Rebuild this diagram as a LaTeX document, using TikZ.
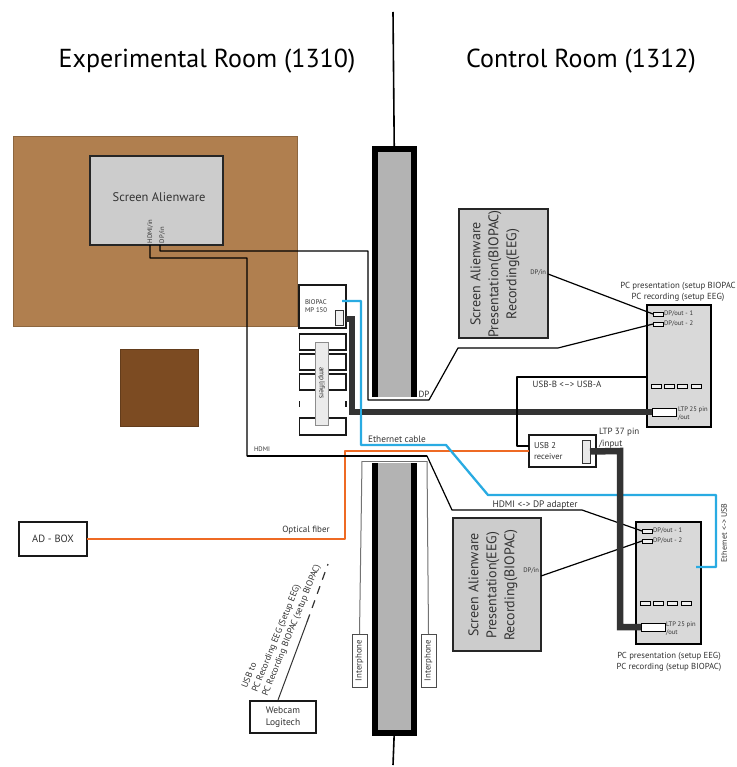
\documentclass[tikz,border=0pt]{standalone}
\usepackage{fontspec}
\setmainfont{PT Sans}
\usetikzlibrary{calc}
\definecolor{brownA}{HTML}{B07F4F}
\definecolor{brownB}{HTML}{7C4B22}
\definecolor{wallG}{HTML}{B3B3B3}
\definecolor{scrG}{HTML}{CCCCCC}
\definecolor{pcG}{HTML}{D9D9D9}
\definecolor{cableB}{HTML}{29ABE2}
\definecolor{cableO}{HTML}{EE6A24}
\definecolor{thickC}{HTML}{333333}
\definecolor{txtC}{HTML}{333333}
\tikzset{
  x=1pt,y=-1pt,
  every node/.style={inner sep=0pt,outer sep=0pt,text=txtC,font=\fontsize{8}{10}\selectfont,align=center},
  boxline/.style={draw=black!90,line width=1.5pt},
  thinbox/.style={draw=black!70,line width=1pt},
  pcbox/.style={draw=black,line width=2pt,fill=pcG},
  scrbox/.style={draw=black!85,line width=1.5pt,fill=scrG},
  portbox/.style={draw=black,line width=1pt,fill=pcG!40},
  wire/.style={draw=black,line width=1.2pt,line join=round},
  thickwire/.style={draw=thickC,line width=6.5pt,line join=miter},
  bluewire/.style={draw=cableB,line width=2.3pt,line join=round},
  orangewire/.style={draw=cableO,line width=2.5pt,line join=round},
  greyline/.style={draw=black!55,line width=1pt},
  lbl/.style={font=\fontsize{9}{11}\selectfont},
  smalllbl/.style={font=\fontsize{6.6}{8}\selectfont},
}
\newcommand{\bx}[6]{%
  \pgfmathsetmacro{\bw}{#4-#2}\pgfmathsetmacro{\bh}{#5-#3}%
  \node[#6,minimum width=\bw pt,minimum height=\bh pt] (#1) at ({(#2+#4)/2},{(#3+#5)/2}) {};}
\begin{document}
\begin{tikzpicture}
\useasboundingbox (0,0) rectangle (736,767);
\fill[white] (0,0) rectangle (736,767);
% rooms
\node[font=\fontsize{26}{30}\selectfont,text=black] (titleL) at (207,61) {Experimental Room (1310)};
\node[font=\fontsize{26}{30}\selectfont,text=black] (titleR) at (581,61) {Control Room (1312)};
\bx{table}{13}{137}{297}{326}{fill=brownA,draw=brownA!80!black,line width=1pt}
\bx{stool}{120}{349}{198}{426}{fill=brownB,draw=brownB!80!black,line width=.8pt}
% central wall
\coordinate (wallTop) at (393,12);
\coordinate (wallBot) at (393,765);
\bx{wallA}{374.5}{149.5}{414}{397}{fill=wallG}
\bx{wallB}{374.5}{463}{414}{732.5}{fill=wallG}
\draw[line width=1.6pt,black] (wallTop) -- (wallA.north);
\draw[line width=1.6pt,black] (wallB.south) -- (wallBot);
\draw[black,line width=6pt,line join=miter] (wallA.south west) -- (wallA.north west) -- (wallA.north east) -- (wallA.south east);
\draw[black,line width=6pt,line join=miter] (wallB.north west) -- (wallB.south west) -- (wallB.south east) -- (wallB.north east);
% screens
\bx{scrA}{90}{156}{223}{245}{scrbox}
\node[font=\fontsize{12.5}{15}\selectfont] (scrAt) at (159,197) {Screen Alienware};
\node[font=\fontsize{6.6}{7}\selectfont,rotate=90,anchor=south west] (hdmiIn) at (153,243) {HDMI/in};
\node[font=\fontsize{6.6}{7}\selectfont,rotate=90,anchor=south west] (dpIn) at (165,243) {DP/in};
\coordinate (hdmiOut) at (150,245);
\coordinate (dpOut) at (160,245);
\bx{scrB}{459}{209}{548}{338}{scrbox}
\node[font=\fontsize{14}{18}\selectfont,rotate=90] (scrBt) at (495,274) {Screen Alienware\\Presentation(BIOPAC)\\Recording(EEG)};
\node[smalllbl,anchor=east] (scrBdp) at (546,273) {DP/in};
\bx{scrC}{453}{518}{541}{651}{scrbox}
\node[font=\fontsize{14}{18}\selectfont,rotate=90] (scrCt) at (493,585) {Screen Alienware\\Presentation(EEG)\\Recording(BIOPAC)};
\node[smalllbl,anchor=east] (scrCdp) at (539,571) {DP/in};
% PCs
\bx{pcA}{647}{305}{711}{427}{pcbox}
\bx{pcAd1}{653}{312}{663}{316}{portbox}
\bx{pcAd2}{653}{322}{663}{326}{portbox}
\bx{pcAu1}{651}{384}{661}{388}{portbox}
\bx{pcAu2}{664}{384}{674}{388}{portbox}
\bx{pcAu3}{677}{384}{687}{388}{portbox}
\bx{pcAu4}{691}{384}{701}{388}{portbox}
\bx{pcB}{636}{522}{701}{644}{pcbox}
\bx{pcBd1}{642}{529}{652}{533}{portbox}
\bx{pcBd2}{642}{539}{652}{543}{portbox}
\bx{pcBu1}{640}{601}{650}{605}{portbox}
\bx{pcBu2}{653}{601}{663}{605}{portbox}
\bx{pcBu3}{667}{601}{677}{605}{portbox}
\bx{pcBu4}{681}{601}{691}{605}{portbox}
\coordinate (pcBeth) at (696,567);
% receiver, biopac, others
\bx{recv}{529}{435}{596}{467}{boxline,fill=white}
\node[anchor=west,align=left,font=\fontsize{8.5}{11}\selectfont] (recvT) at (534,451) {USB 2\\receiver};
\bx{biopac}{299}{285}{346}{328}{boxline,fill=white}
\node[anchor=west,align=left,font=\fontsize{6.8}{8}\selectfont] (biopacT) at (305,306) {BIOPAC\\MP 150};
\bx{adbox}{19}{522}{87}{556}{boxline,fill=white}
\node[font=\fontsize{10.5}{12}\selectfont] (adT) at (53,539) {AD - BOX};
\bx{webcam}{250}{701}{316}{733}{boxline,fill=white}
\node[font=\fontsize{9.5}{11.5}\selectfont] (webT) at (283,717) {Webcam\\Logitech};
\bx{interL}{352}{634}{367}{687}{thinbox,fill=white}
\bx{interR}{421}{634}{436}{687}{thinbox,fill=white}
\node[rotate=90,font=\fontsize{8.8}{10}\selectfont] (interLt) at (359.5,660.5) {Interphone};
\node[rotate=90,font=\fontsize{8.8}{10}\selectfont] (interRt) at (428.5,660.5) {Interphone};
% amplifiers
\bx{ampa}{299.5}{334}{346}{350}{boxline}
\bx{ampb}{299.5}{354}{346}{370}{boxline}
\bx{ampc}{299.5}{374}{346}{390}{boxline}
\bx{ampe}{299.5}{418}{346}{435}{boxline}
\draw[boxline] (299.5,401) -- (299.5,407) (346,401) -- (346,407);
\bx{ampbar}{315}{342}{328}{425}{draw=black!45,line width=.8pt,fill=black!8}
\node[rotate=-90,font=\fontsize{7.5}{9}\selectfont] (ampT) at (321.5,383) {amplifiers};
% wires
\coordinate (dpBend) at (429,400);
\draw[wire] (dpOut) -- (160,251) -- (368,251) -- (368,400) -- (dpBend) -- (458,348) -- (558,348) -- (pcAd2.west);
\draw[wire] (hdmiOut) -- (150,258) -- (247,258) -- (247,456) -- (427,456) -- (452,510) -- (582,510) -- (pcBd1.west);
\draw[wire] (scrB.east |- scrBdp) ++(0,1) -- (pcAd1.west);
\draw[wire] (scrC.east |- scrCdp) ++(0,5) -- (pcBd2.west);
\draw[wire] (pcA.west |- 0,377) -- (517,377) -- (517,446) -- (recv.west |- 0,446);
\draw[greyline] (362,461) -- (427,461);
\draw[greyline] (362,461) -- (interL.north);
\draw[greyline] (427,461) -- (interR.north);
\draw[orangewire] (adbox.east) -- (345,539) -- (345,451) -- (recv.west |- 0,451);
\draw[wire] (247,456) -- (427,456);
\draw[bluewire] (342,301) -- (361,301) -- (361,445) -- (446,445) -- (488,495) -- (716,495) -- (716,567) -- (pcBeth);
% thick cables and the ports they enter
\bx{ltpA}{652}{408}{676}{416}{portbox,fill=white}
\bx{ltpB}{641}{623}{665}{631}{portbox,fill=white}
\bx{recvP}{582}{440}{590}{463}{draw=black!80,line width=1pt,fill=pcG!60}
\bx{biopacP}{335}{310}{343}{325}{draw=black!80,line width=1pt,fill=pcG!40}
\draw[thickwire] (biopac.east |- 0,319) -- (352,319) -- (352,412) -- (ltpA.west);
\draw[thickwire] (recvP.east) -- (620,451) -- (620,627) -- (ltpB.west);
\draw[wire] (517,377) -- (517,446);
\draw[bluewire] (361,405) -- (361,418);
% webcam cable
\coordinate (camEnd) at (328,564);
\draw[draw=black!80,line width=1pt] (webcam.north) ++(-5,-1) -- (307,622);
\draw[draw=black!80,line width=1.2pt,dash pattern=on 8pt off 7pt] (307,622) -- (camEnd);
% labels
\node[font=\fontsize{9.3}{11}\selectfont] (lblEth) at (397,439) {Ethernet cable};
\node[lbl] (lblOpt) at (306,530) {Optical fiber};
\node[smalllbl] (lblHd) at (262,449) {HDMI};
\node[font=\fontsize{9.4}{11}\selectfont] (lblAd) at (535,505) {HDMI <-> DP adapter};
\node[lbl] (lblUsb) at (567,384) {USB-B <--> USB-A};
\node[font=\fontsize{9}{12}\selectfont,anchor=west,align=left] (lblLtp) at (599,438) {LTP 37 pin\\/input};
\node[font=\fontsize{9}{10}\selectfont] (lblDp) at (424,394) {DP};
\node[font=\fontsize{8}{10}\selectfont,rotate=90] (lblEU) at (724,533) {Ethernet <-> USB};
\node[font=\fontsize{8.8}{11}\selectfont] (lblPcA) at (678,292) {PC presentation (setup BIOPAC\\PC recording (setup EEG)};
\node[font=\fontsize{8.7}{11}\selectfont] (lblPcB) at (669,662) {PC presentation (setup EEG)\\PC recording (setup BIOPAC)};
\node[smalllbl,anchor=west] (l1) at (664,314) {DP/out - 1};
\node[smalllbl,anchor=west] (l2) at (664,324) {DP/out - 2};
\node[smalllbl,anchor=west,align=left] (l3) at (678,414) {LTP 25 pin\\/out};
\node[smalllbl,anchor=west] (l4) at (653,531) {DP/out - 1};
\node[smalllbl,anchor=west] (l5) at (653,541) {DP/out - 2};
\node[smalllbl,anchor=west,align=left] (l6) at (666,629) {LTP 25 pin\\/out};
\node[rotate=68,anchor=west,align=left,font=\fontsize{9}{11}\selectfont] (camT) at (255,692) {USB to\\PC Recording EEG (Setup EEG)\\PC Recording BIOPAC (setup BIOPAC)};
\end{tikzpicture}
\end{document}
